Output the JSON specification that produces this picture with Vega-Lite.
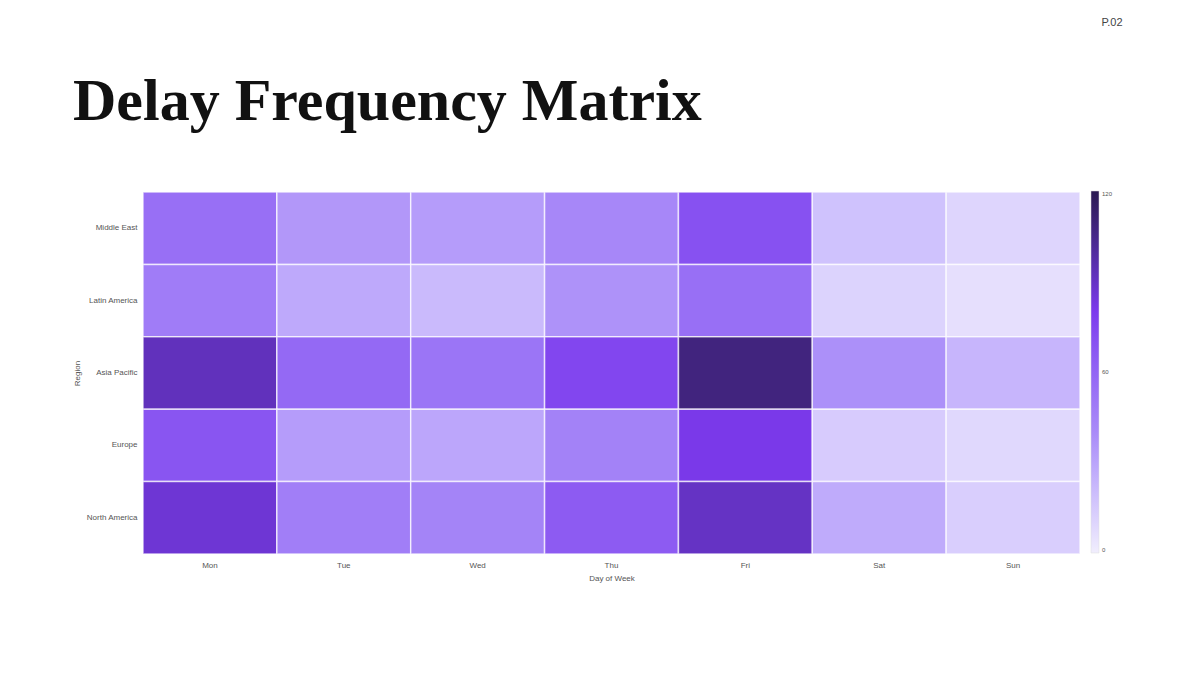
{
  "$schema": "https://vega.github.io/schema/vega-lite/v6.json",
  "autosize": "none",
  "width": 937,
  "height": 362,
  "padding": {"left": 143, "top": 192, "right": 57, "bottom": 121},
  "background": "white",
  "title": {
    "text": "Delay Frequency Matrix",
    "anchor": "start",
    "frame": "group",
    "dx": -70,
    "offset": -163,
    "baseline": "alphabetic",
    "font": "Liberation Serif",
    "fontWeight": "bold",
    "fontSize": 60,
    "color": "#111111"
  },
  "config": {
    "view": {"stroke": null},
    "font": "Liberation Sans"
  },
  "data": {
    "values": [
      {"region": "Middle East", "day": "Mon", "delays": 55},
      {"region": "Middle East", "day": "Tue", "delays": 35},
      {"region": "Middle East", "day": "Wed", "delays": 33},
      {"region": "Middle East", "day": "Thu", "delays": 42},
      {"region": "Middle East", "day": "Fri", "delays": 70},
      {"region": "Middle East", "day": "Sat", "delays": 18},
      {"region": "Middle East", "day": "Sun", "delays": 10},
      {"region": "Latin America", "day": "Mon", "delays": 48},
      {"region": "Latin America", "day": "Tue", "delays": 28},
      {"region": "Latin America", "day": "Wed", "delays": 21},
      {"region": "Latin America", "day": "Thu", "delays": 37},
      {"region": "Latin America", "day": "Fri", "delays": 55},
      {"region": "Latin America", "day": "Sat", "delays": 11},
      {"region": "Latin America", "day": "Sun", "delays": 6},
      {"region": "Asia Pacific", "day": "Mon", "delays": 92},
      {"region": "Asia Pacific", "day": "Tue", "delays": 58},
      {"region": "Asia Pacific", "day": "Wed", "delays": 52},
      {"region": "Asia Pacific", "day": "Thu", "delays": 75},
      {"region": "Asia Pacific", "day": "Fri", "delays": 108},
      {"region": "Asia Pacific", "day": "Sat", "delays": 38},
      {"region": "Asia Pacific", "day": "Sun", "delays": 23},
      {"region": "Europe", "day": "Mon", "delays": 68},
      {"region": "Europe", "day": "Tue", "delays": 33},
      {"region": "Europe", "day": "Wed", "delays": 29},
      {"region": "Europe", "day": "Thu", "delays": 45},
      {"region": "Europe", "day": "Fri", "delays": 81},
      {"region": "Europe", "day": "Sat", "delays": 14},
      {"region": "Europe", "day": "Sun", "delays": 9},
      {"region": "North America", "day": "Mon", "delays": 86},
      {"region": "North America", "day": "Tue", "delays": 47},
      {"region": "North America", "day": "Wed", "delays": 44},
      {"region": "North America", "day": "Thu", "delays": 65},
      {"region": "North America", "day": "Fri", "delays": 90},
      {"region": "North America", "day": "Sat", "delays": 27},
      {"region": "North America", "day": "Sun", "delays": 13}
    ]
  },
  "mark": {"type": "rect", "stroke": "white", "strokeWidth": 1.5, "strokeOpacity": 0.7},
  "encoding": {
    "x": {
      "field": "day",
      "type": "ordinal",
      "sort": ["Mon", "Tue", "Wed", "Thu", "Fri", "Sat", "Sun"],
      "title": "Day of Week",
      "axis": {
        "labelAngle": 0,
        "ticks": false,
        "domain": false,
        "labelPadding": 7,
        "labelFontSize": 8,
        "labelColor": "#555555",
        "titleFontSize": 8,
        "titleFontWeight": "normal",
        "titleColor": "#555555",
        "titlePadding": 5
      }
    },
    "y": {
      "field": "region",
      "type": "ordinal",
      "sort": ["Middle East", "Latin America", "Asia Pacific", "Europe", "North America"],
      "title": "Region",
      "axis": {
        "ticks": false,
        "domain": false,
        "labelPadding": 6,
        "labelFontSize": 8,
        "labelColor": "#555555",
        "titleFontSize": 8,
        "titleFontWeight": "normal",
        "titleColor": "#555555",
        "titlePadding": 4
      }
    },
    "color": {
      "field": "delays",
      "type": "quantitative",
      "scale": {
        "domain": [0, 40, 80, 120],
        "range": ["#f1eefd", "#a98bf8", "#7c3aed", "#2b1a52"]
      },
      "legend": {
        "title": "P.02",
        "orient": "none",
        "legendX": 948,
        "legendY": -175,
        "direction": "vertical",
        "gradientLength": 362,
        "gradientThickness": 8,
        "gradientStrokeColor": "#dddddd",
        "gradientStrokeWidth": 0.5,
        "values": [0, 60, 120],
        "labelFontSize": 6,
        "labelColor": "#555555",
        "labelOffset": 3,
        "titleFontSize": 11,
        "titleFontWeight": "normal",
        "titleColor": "#444444",
        "titleAnchor": "end",
        "titleAlign": "center",
        "titlePadding": 163
      }
    }
  }
}
